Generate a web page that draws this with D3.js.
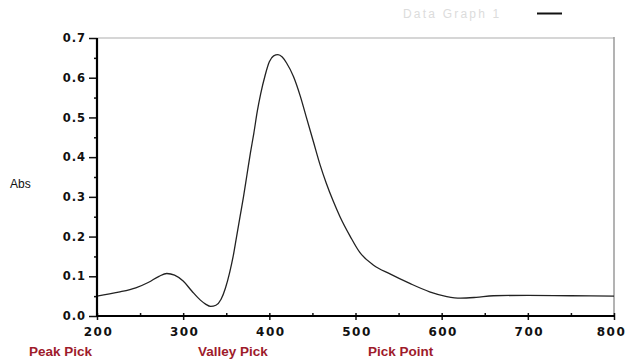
<!DOCTYPE html>
<html>
<head>
<meta charset="utf-8">
<script src="https://cdn.jsdelivr.net/npm/d3@7"></script>
<style>
  html, body { margin: 0; padding: 0; background: #fff; }
  svg { display: block; }
</style>
</head>
<body>
<svg id="chart" width="627" height="359"></svg>
<script>
// ---- data ----
const wavelengths = [200, 225, 245, 260, 272, 281, 290, 300, 310, 320, 326, 332, 338, 344, 349, 354, 358, 362, 366, 370, 374, 378, 382, 386, 390, 395, 400, 405, 410, 415, 420, 428, 436, 443, 451, 459, 466, 474, 482, 494, 505, 521, 540, 563, 586, 606, 622, 640, 660, 700, 750, 800];
const absorbance  = [0.050, 0.060, 0.071, 0.085, 0.100, 0.107, 0.103, 0.088, 0.063, 0.040, 0.030, 0.024, 0.027, 0.042, 0.070, 0.110, 0.150, 0.200, 0.250, 0.300, 0.355, 0.410, 0.460, 0.515, 0.560, 0.605, 0.640, 0.655, 0.658, 0.652, 0.637, 0.603, 0.553, 0.500, 0.440, 0.380, 0.335, 0.290, 0.250, 0.200, 0.160, 0.128, 0.106, 0.082, 0.061, 0.049, 0.045, 0.047, 0.051, 0.052, 0.051, 0.050];
const xTicks = [200, 300, 400, 500, 600, 700, 800];
const xMinorTicks = [250, 350, 450, 550, 650, 750];
const yTicks = [0.0, 0.1, 0.2, 0.3, 0.4, 0.5, 0.6, 0.7];
const yMinorTicks = [0.05, 0.15, 0.25, 0.35, 0.45, 0.55, 0.65];
const bottomLabels = ["Peak Pick", "Valley Pick", "Pick Point"];
const yTitle = "Abs";
const legendText = "Data Graph 1";

// ---- layout ----
const svg = d3.select("#chart");
const pL = 97, pR = 614, pT = 38, pB = 316;
const x = d3.scaleLinear().domain([200, 800]).range([pL, pR]);
const y = d3.scaleLinear().domain([0, 0.7]).range([pB, pT]);

// frame (top & right)
svg.append("line").attr("x1", pL).attr("x2", pR).attr("y1", pT).attr("y2", pT)
  .attr("stroke", "#c8c8c8").attr("stroke-width", 1.5);
svg.append("line").attr("x1", pR).attr("x2", pR).attr("y1", pT - 1).attr("y2", pB)
  .attr("stroke", "#9a9a9a").attr("stroke-width", 1.5);

// curve
const data = wavelengths.map((w, i) => ({ w, a: absorbance[i] }));
const line = d3.line().x(d => x(d.w)).y(d => y(d.a)).curve(d3.curveMonotoneX);
svg.append("path").datum(data).attr("d", line)
  .attr("fill", "none").attr("stroke", "#222").attr("stroke-width", 1.3);

// y axis
const yAxis = d3.axisLeft(y).tickValues(yTicks).tickFormat(d3.format(".1f")).tickSize(8).tickPadding(4);
const gy = svg.append("g").attr("transform", `translate(${pL},0)`).call(yAxis);
gy.select(".domain").remove();
gy.selectAll(".tick line").attr("stroke", "#111").attr("stroke-width", 1.5);
gy.selectAll(".tick text").attr("font-family", "DejaVu Sans").attr("font-weight", "bold")
  .attr("font-size", 11.5).attr("letter-spacing", 1).attr("fill", "#111").attr("dx", 1);
const gyMinor = svg.append("g").attr("transform", `translate(${pL},0)`)
  .call(d3.axisLeft(y).tickValues(yMinorTicks).tickFormat("").tickSize(3));
gyMinor.select(".domain").remove();
gyMinor.selectAll(".tick line").attr("stroke", "#111").attr("stroke-width", 1.5);

// x axis
const xAxis = d3.axisBottom(x).tickValues(xTicks).tickFormat(d3.format("d")).tickSize(4).tickPadding(7);
const gx = svg.append("g").attr("transform", `translate(0,${pB})`).call(xAxis);
gx.select(".domain").remove();
gx.selectAll(".tick line").attr("stroke", "#111").attr("stroke-width", 1.5).attr("y1", -3);
gx.selectAll(".tick text").attr("font-family", "DejaVu Sans").attr("font-weight", "bold")
  .attr("font-size", 12).attr("letter-spacing", 1.5).attr("fill", "#111")
  .attr("dx", d => d === 800 ? -3 : 1);
const gxMinor = svg.append("g").attr("transform", `translate(0,${pB})`)
  .call(d3.axisBottom(x).tickValues(xMinorTicks).tickFormat("").tickSize(-3));
gxMinor.select(".domain").remove();
gxMinor.selectAll(".tick line").attr("stroke", "#111").attr("stroke-width", 1.5);

// axis lines
svg.append("line").attr("x1", pL).attr("x2", pL).attr("y1", pT).attr("y2", pB + 1)
  .attr("stroke", "#000").attr("stroke-width", 2.2);
svg.append("line").attr("x1", pL - 1).attr("x2", pR + 1).attr("y1", pB).attr("y2", pB)
  .attr("stroke", "#000").attr("stroke-width", 2.2);

// y title
svg.append("text").attr("x", 10).attr("y", 188).text(yTitle)
  .attr("font-family", "Liberation Sans, Arial").attr("font-size", 12).attr("fill", "#111");

// legend (faded)
svg.append("text").attr("x", 403).attr("y", 18).text(legendText)
  .attr("font-family", "Liberation Sans, Arial").attr("font-size", 12).attr("fill", "#dcdcdc")
  .attr("letter-spacing", 2.2);
svg.append("line").attr("x1", 537).attr("x2", 562).attr("y1", 13.5).attr("y2", 13.5)
  .attr("stroke", "#111").attr("stroke-width", 2);

// bottom red labels
const labelX = [29, 198, 368];
svg.selectAll("text.bl").data(bottomLabels).enter().append("text")
  .attr("class", "bl").attr("x", (d, i) => labelX[i]).attr("y", 356).text(d => d)
  .attr("font-family", "Liberation Sans, Arial").attr("font-weight", "bold")
  .attr("font-size", 13.5).attr("fill", "#9e1b2b");
</script>
</body>
</html>
